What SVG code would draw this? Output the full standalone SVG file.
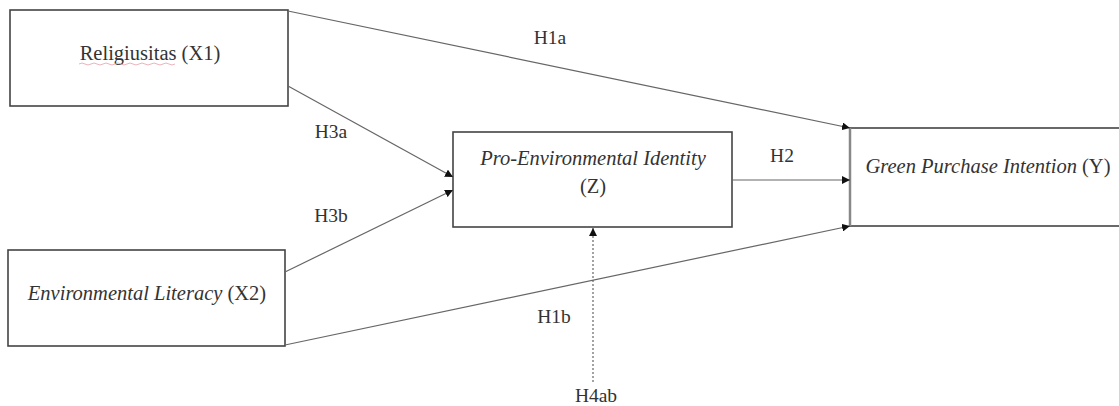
<svg xmlns="http://www.w3.org/2000/svg" width="1119" height="406" viewBox="0 0 1119 406">
<defs>
<style>
.box{fill:#fff;stroke:#444;stroke-width:1.6}
.t{font-family:"Liberation Serif","Times New Roman",serif;font-size:20.5px;fill:#333}
.l{font-size:19.5px}
.i{font-style:italic}
.c{stroke:#666;stroke-width:1.2;fill:none}
.d{stroke:#666;stroke-width:1.2;fill:none;stroke-dasharray:2 2}
</style>
<marker id="ah" viewBox="0 0 10 10" refX="10" refY="5" markerWidth="8" markerHeight="8" orient="auto" markerUnits="userSpaceOnUse">
<path d="M0,0 L10,5 L0,10 z" fill="#111"/>
</marker>
</defs>
<rect width="1119" height="406" fill="#fff"/>
<g id="x1">
<rect class="box" x="10" y="10" width="278" height="96"/>
<text class="t" x="150" y="60" text-anchor="middle">Religiusitas (X1)</text>
<path d="M79,64 q3,-2 6,0 t6,0 t6,0 t6,0 t6,0 t6,0 t6,0 t6,0 t6,0 t6,0 t6,0 t6,0 t6,0 t6,0 t6,0 t6,0" stroke="#e8a0a8" stroke-width="0.8" fill="none"/>
</g>
<g id="x2">
<rect class="box" x="8" y="250" width="277" height="96"/>
<text class="t" x="147" y="300" text-anchor="middle"><tspan class="i">Environmental Literacy</tspan> (X2)</text>
</g>
<g id="z">
<rect class="box" x="453" y="132" width="279" height="95"/>
<text class="t i" x="593" y="165" text-anchor="middle">Pro-Environmental Identity</text>
<text class="t" x="593" y="193" text-anchor="middle">(Z)</text>
</g>
<g id="y">
<rect class="box" x="850" y="128" width="280" height="98"/>
<line x1="850" y1="128" x2="850" y2="226" stroke="#888" stroke-width="2.5"/>
<text class="t" x="988" y="173" text-anchor="middle"><tspan class="i">Green Purchase Intention</tspan> (Y)</text>
</g>
<g id="connectors">
<line class="c" x1="288" y1="11" x2="850" y2="128" marker-end="url(#ah)"/>
<line class="c" x1="288" y1="86" x2="453" y2="177" marker-end="url(#ah)"/>
<line class="c" x1="285" y1="272" x2="453" y2="190" marker-end="url(#ah)"/>
<line class="c" x1="732" y1="180" x2="850" y2="180" marker-end="url(#ah)"/>
<line class="c" x1="285" y1="345" x2="850" y2="226" marker-end="url(#ah)"/>
<line class="d" x1="593" y1="382" x2="593" y2="228" marker-end="url(#ah)"/>
</g>
<g id="labels">
<text class="t l" x="550" y="44" text-anchor="middle">H1a</text>
<text class="t l" x="331" y="138" text-anchor="middle">H3a</text>
<text class="t l" x="331" y="222" text-anchor="middle">H3b</text>
<text class="t l" x="782" y="162" text-anchor="middle">H2</text>
<text class="t l" x="554" y="323" text-anchor="middle">H1b</text>
<text class="t l" x="596" y="402" text-anchor="middle">H4ab</text>
</g>
</svg>
